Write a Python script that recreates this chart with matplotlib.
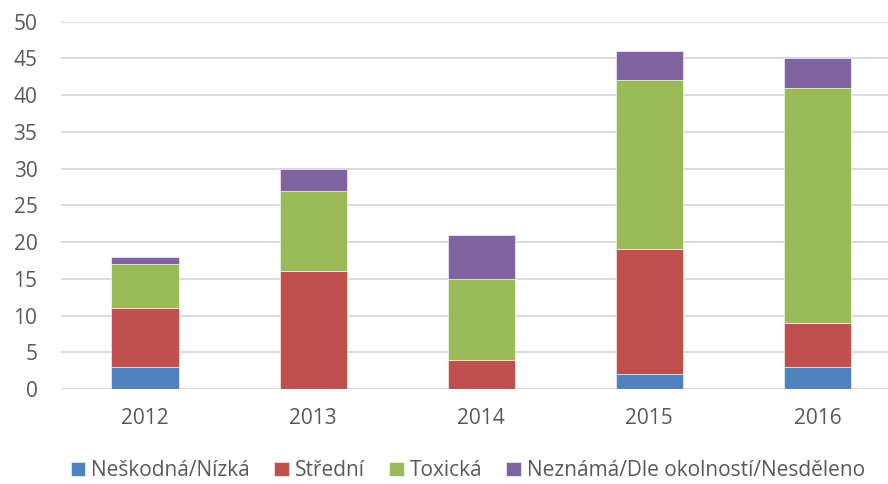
import numpy as np
import matplotlib.pyplot as plt

years = ["2012", "2013", "2014", "2015", "2016"]
nizka = [3, 0, 0, 2, 3]
stredni = [8, 16, 4, 17, 6]
toxicka = [6, 11, 11, 23, 32]
neznama = [1, 3, 6, 4, 4]

labels = ["Neškodná/Nízká", "Střední", "Toxická", "Neznámá/Dle okolností/Nesděleno"]
colors = ["#4F81BD", "#C0504D", "#9BBB59", "#8064A2"]

plt.rcParams['font.family'] = ['Open Sans', 'DejaVu Sans']
txt = "#595959"

fig = plt.figure(figsize=(8.88, 4.84), dpi=100)
ax = fig.add_axes([61 / 888, 95 / 484, 827 / 888, 367.3 / 484])

x = np.arange(len(years))
bottom = np.zeros(len(years))
for vals, lab, col in zip([nizka, stredni, toxicka, neznama], labels, colors):
    ax.bar(x, vals, 0.4, bottom=bottom, color=col, label=lab,
           edgecolor="white", linewidth=0.4, zorder=3)
    bottom += np.array(vals)

ax.set_xlim(-0.5, -0.5 + 827 / 168.1)
ax.set_ylim(0, 50)
ax.set_yticks(range(0, 51, 5))
ax.set_xticks(x)
ax.set_xticklabels(years)
ax.yaxis.grid(True, color="#D9D9D9", linewidth=1.3, zorder=0)
for s in ax.spines.values():
    s.set_visible(False)
ax.tick_params(axis="both", length=0, labelsize=15, labelcolor=txt)
ax.tick_params(axis="y", pad=17)
ax.tick_params(axis="x", pad=14)

fig.legend(loc="lower center", ncol=4, frameon=False, fontsize=15,
           bbox_to_anchor=(0.527, -0.033), handlelength=0.7, handleheight=0.7,
           handletextpad=0.3, columnspacing=1.15, labelcolor=txt)

fig.savefig("out.png", dpi=100)
